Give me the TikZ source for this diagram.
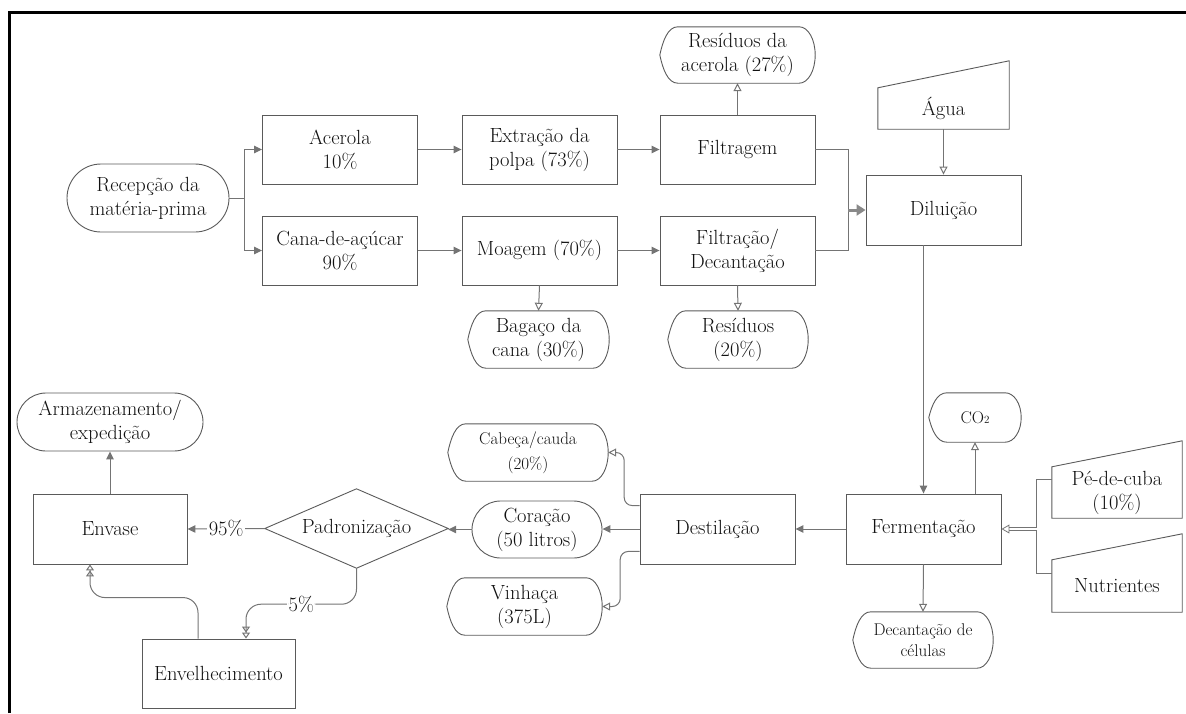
\documentclass[tikz,border=0pt]{standalone}
\usepackage{fontspec}
\usetikzlibrary{arrows.meta,shapes.misc,calc}

\definecolor{edgegray}{HTML}{747474}
\definecolor{boxgray}{HTML}{5A5A5A}
\definecolor{txt}{HTML}{111111}

\tikzset{
  base/.style={text=txt, font=\fontsize{20.5}{24}\selectfont, align=center, inner sep=0pt},
  small/.style={font=\fontsize{17}{21}\selectfont},
  proc/.style={base, draw=boxgray, line width=0.9pt, minimum width=155pt, minimum height=69pt},
  term/.style={base, rounded rectangle, draw=boxgray, line width=0.9pt},
  outl/.style={draw=boxgray, line width=0.9pt},
  link/.style={draw=edgegray, line width=1pt},
  flow/.style={link, -{Triangle[length=8pt,width=7.5pt]}},
  bold/.style={draw=edgegray!85, line width=3pt, -{Triangle[length=9pt,width=11pt]}},
  side/.style={link, -{Triangle[open,length=8pt,width=8pt]}},
  dual/.style={draw=edgegray, line width=0.8pt, double=white, double distance=1.6pt,
               -{Triangle[open,length=8pt,width=9pt]}},
  twin/.style={link, -{Triangle[open,length=6pt,width=8pt]Triangle[open,length=6pt,width=8pt]}},
  lab/.style={base, fill=white, inner sep=1.5pt},
}

% display symbol: pointed left end, rounded right end
\newcommand\dispoutline[1]{%
  \path[outl] (#1.west)
    .. controls ($(#1.west)!0.5!(#1.north west)+(3,0)$) and ($(#1.north west)+(8,0)$) .. ($(#1.north west)+(18,0)$)
    -- ($(#1.north east)+(-16,0)$)
    .. controls ($(#1.north east)+(-7,0)$) and ($(#1.east)!0.55!(#1.north east)$) .. (#1.east)
    .. controls ($(#1.east)!0.55!(#1.south east)$) and ($(#1.south east)+(-7,0)$) .. ($(#1.south east)+(-16,0)$)
    -- ($(#1.south west)+(18,0)$)
    .. controls ($(#1.south west)+(8,0)$) and ($(#1.west)!0.5!(#1.south west)+(3,0)$) .. (#1.west) -- cycle;}

% manual input symbol: slanted top rising to the right
\newcommand\mioutline[2]{%
  \path[outl] (#1.south west) -- (#1.north west) -- ($(#1.north east)+(0,-#2)$) -- (#1.south east) -- cycle;}

\begin{document}
\begin{tikzpicture}[x=1pt,y=-1pt]
\useasboundingbox (0,0) rectangle (1186,713);

% frame lines
\draw[line width=2.8pt, black] (9.5,713) -- (9.5,12.5) -- (1186,12.5);

% ---- preparation of raw materials ----
\node[term, minimum width=162pt, minimum height=68pt] (rec) at (148,198) {Recepção da\\matéria-prima};
\node[proc] (acer) at (340,149.5) {Acerola\\10\%};
\node[proc] (cana) at (340,250.5) {Cana-de-açúcar\\90\%};
\node[proc] (extr) at (539.5,149.5) {Extração da\\polpa (73\%)};
\node[proc] (moag) at (539.5,250.5) {Moagem (70\%)};
\node[proc] (filt) at (737.5,149.5) {Filtragem};
\node[proc] (fdec) at (737.5,250.5) {Filtração/\\Decantação};

\node[base, minimum width=155pt, minimum height=56pt] (resa) at (737.5,55) {Resíduos da\\acerola (27\%)};
\node[base, minimum width=141pt, minimum height=57pt] (baga) at (538.5,339.5) {Bagaço da\\cana (30\%)};
\node[base, minimum width=140pt, minimum height=57pt] (resb) at (738,339.5) {Resíduos\\(20\%)};
\dispoutline{resa}
\dispoutline{baga}
\dispoutline{resb}

\node[base, minimum width=131pt, minimum height=41pt] (agua) at (943.5,108.5) {Água};
\mioutline{agua}{27}
\node[proc, minimum height=70pt] (dilu) at (943.5,210) {Diluição};

% ---- fermentation ----
\node[proc, minimum height=70pt] (ferm) at (923.5,529) {Fermentação};
\node[base, small, minimum width=92pt, minimum height=49pt] (co2) at (975,417.5) {CO{\fontsize{11}{11}\selectfont 2}};
\dispoutline{co2}
\node[base, minimum width=130pt, minimum height=51pt] (pe) at (1117,492.5) {Pé-de-cuba\\(10\%)};
\mioutline{pe}{26}
\node[base, minimum width=130pt, minimum height=52pt] (nutr) at (1117,586) {Nutrientes};
\mioutline{nutr}{26}
\node[base, small, minimum width=140pt, minimum height=56pt] (decc) at (923,640) {Decantação de\\células};
\dispoutline{decc}

% ---- distillation ----
\node[proc, minimum height=70pt] (dest) at (717.5,529) {Destilação};
\node[term, minimum width=130pt, minimum height=57pt] (cora) at (537,529.5) {Coração\\(50 litros)};
\node[base, font=\fontsize{17}{25}\selectfont, minimum width=160pt, minimum height=57pt] (cabe) at (528,452.5) {Cabeça/cauda\\(20\%)};
\dispoutline{cabe}
\node[base, minimum width=155pt, minimum height=57pt] (vinh) at (524.5,606.5) {Vinhaça\\(375L)};
\dispoutline{vinh}

% ---- finishing ----
\node[base, minimum width=183pt, minimum height=79pt] (padr) at (356.5,528.5) {Padronização};
\path[outl] (padr.north) -- (padr.east) -- (padr.south) -- (padr.west) -- cycle;
\node[proc, minimum width=154pt, minimum height=70pt] (enva) at (110,529) {Envase};
\node[term, minimum width=186pt, minimum height=58pt] (arma) at (110,422) {Armazenamento/\\expedição};
\node[proc, minimum width=153pt] (enve) at (218.5,673.5) {Envelhecimento};

% ---- connectors ----
\coordinate (split) at ($(rec.east)+(15,0)$);
\draw[link] (rec.east) -- (split);
\draw[flow] (split) |- (acer.west);
\draw[flow] (split) |- (cana.west);
\draw[flow] (acer.east) -- (extr.west);
\draw[flow] (extr.east) -- (filt.west);
\draw[flow] (cana.east) -- (moag.west);
\draw[flow] (moag.east) -- (fdec.west);
\draw[side] (filt.north) -- (resa.south);
\draw[side] (moag.south) -- (baga.north);
\draw[side] (fdec.south) -- (resb.north);

\coordinate (merge) at ($(filt.east)+(33,0)$);
\draw[link] (filt.east) -- (merge) |- (fdec.east);
\draw[bold] (merge |- dilu.west) -- (dilu.west);
\draw[side] (agua.south) -- (dilu.north);
\draw[flow] (dilu.south -| ferm.north) -- (ferm.north);

\draw[side] (ferm.north -| co2.south) -- (co2.south);
\coordinate (pein) at ($(pe.west)+(0,-13)$);
\coordinate (nuin) at ($(nutr.west)+(0,-13)$);
\coordinate (feed) at ($(pein)+(-15,0)$);
\draw[link] (pein) -- (feed) |- (nuin);
\draw[dual] (feed |- ferm.east) -- (ferm.east);
\draw[side] (ferm.south) -- (decc.north);
\draw[flow] (ferm.west) -- (dest.east);

\draw[flow] (dest.west) -- (dest.west -| cora.east);
\coordinate (dtop) at ($(dest.north west)+(0,12)$);
\coordinate (dbot) at ($(dest.south west)+(0,-13)$);
\draw[side, rounded corners=8pt] (dtop) -| ([xshift=16pt]cabe.east) -- (cabe.east);
\draw[side, rounded corners=8pt] (dbot) -| ([xshift=18pt]vinh.east) -- (vinh.east);

\draw[flow] (cora.west) -- (cora.west -| padr.east);
\draw[flow] (padr.west) -- node[lab] {95\%} (enva.east);
\draw[flow] (enva.north) -- (arma.south);

\coordinate (ageIn) at ($(enve.north)+(27.5,0)$);
\draw[twin, rounded corners=15pt] (padr.south) -- ++(0,36) -| node[lab, pos=0.25] {5\%} (ageIn);
\coordinate (ageOut) at ($(enve.north)+(-20.5,0)$);
\coordinate (fillIn) at ($(enva.south)+(-20,0)$);
\draw[twin, rounded corners=15pt] (ageOut) -- ++(0,-41) -| (fillIn);
\end{tikzpicture}
\end{document}
